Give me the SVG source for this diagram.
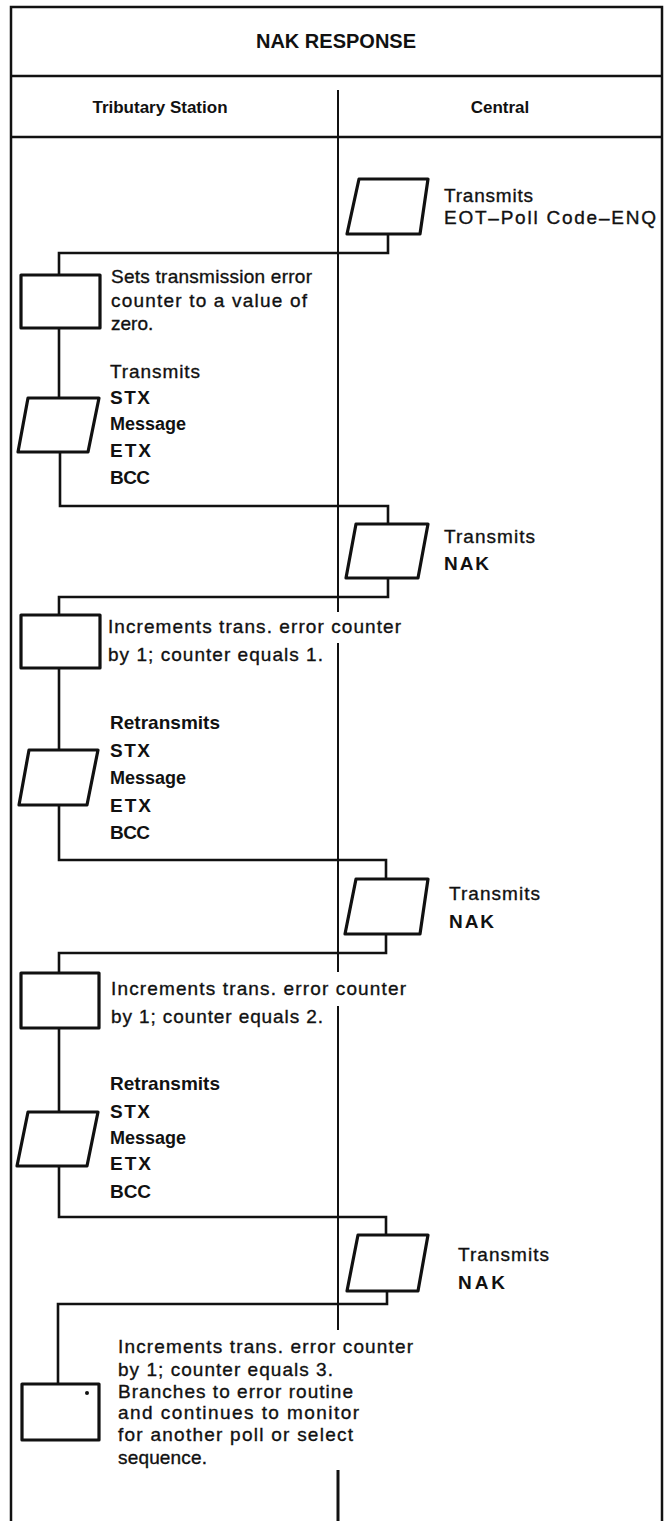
<svg xmlns="http://www.w3.org/2000/svg" width="666" height="1521" viewBox="0 0 666 1521">
<style>
.frame{fill:none;stroke:#111;stroke-width:2.5}
.div{fill:none;stroke:#111;stroke-width:2}
.shape{fill:#fff;stroke:#111;stroke-width:3.2;stroke-linejoin:round}
.conn{fill:none;stroke:#111;stroke-width:2.6;stroke-linejoin:miter}
text{font-family:"Liberation Sans",Arial,sans-serif;fill:#111}
.t{font-size:19px;stroke:#111;stroke-width:0.35}
.b{font-size:19px;font-weight:bold}
.m{font-size:18px;font-weight:bold}
.h1{font-size:20px;font-weight:bold}
.h2{font-size:17px;font-weight:bold}
</style>
<rect width="666" height="1521" fill="#fff"/>
<g id="frame">
<path class="frame" d="M11,1521 V7 H662 V1521"/>
<line class="frame" x1="11" y1="76" x2="662" y2="76"/>
<line class="frame" x1="11" y1="137" x2="662" y2="137"/>
<text class="h1" x="336" y="48" text-anchor="middle">NAK RESPONSE</text>
<text class="h2" x="160" y="113" text-anchor="middle">Tributary Station</text>
<text class="h2" x="500" y="113" text-anchor="middle">Central</text>
</g>
<g id="divider">
<path class="div" d="M338,90 V612 M338,643 V972 M338,1006 V1330"/>
<path class="div" style="stroke-width:3" d="M338,1470 V1521"/>
</g>
<g id="connectors">
<path class="conn" d="M388,234 V253 H59 V275"/>
<path class="conn" d="M59,328 V398"/>
<path class="conn" d="M60,452 V506 H388 V524"/>
<path class="conn" d="M388,578 V597 H59 V615"/>
<path class="conn" d="M59,668 V750"/>
<path class="conn" d="M59,805 V860 H386 V879"/>
<path class="conn" d="M386,934 V953 H59 V973"/>
<path class="conn" d="M59,1028 V1112"/>
<path class="conn" d="M59,1166 V1217 H386 V1235"/>
<path class="conn" d="M387,1291 V1304 H58 V1384"/>
</g>
<g id="c1">
<path class="shape" d="M359,179 L428,179 L420,234 L347,234 Z"/>
<text class="t" x="444" y="202" textLength="89" lengthAdjust="spacing">Transmits</text>
<text class="t" x="444" y="224" textLength="212" lengthAdjust="spacing">EOT–Poll Code–ENQ</text>
</g>
<g id="t1">
<rect class="shape" x="21" y="275" width="79" height="53"/>
<text class="t" x="111" y="283" textLength="201" lengthAdjust="spacing">Sets transmission error</text>
<text class="t" x="111" y="307" textLength="196" lengthAdjust="spacing">counter to a value of</text>
<text class="t" x="111" y="330">zero.</text>
</g>
<g id="t2">
<path class="shape" d="M28,398 L99,398 L88,452 L18,452 Z"/>
<text class="t" x="110" y="378" textLength="90" lengthAdjust="spacing">Transmits</text>
<text class="b" x="110" y="404" textLength="40" lengthAdjust="spacing">STX</text>
<text class="m" x="110" y="430">Message</text>
<text class="b" x="110" y="457" textLength="41" lengthAdjust="spacing">ETX</text>
<text class="b" x="110" y="484" textLength="40" lengthAdjust="spacing">BCC</text>
</g>
<g id="c2">
<path class="shape" d="M356,524 L428,524 L418,578 L346,578 Z"/>
<text class="t" x="444" y="543" textLength="91" lengthAdjust="spacing">Transmits</text>
<text class="b" x="444" y="570" textLength="45" lengthAdjust="spacing">NAK</text>
</g>
<g id="t3">
<rect class="shape" x="21" y="615" width="79" height="53"/>
<text class="t" x="108" y="633" textLength="293" lengthAdjust="spacing">Increments trans. error counter</text>
<text class="t" x="108" y="661" textLength="215" lengthAdjust="spacing">by 1; counter equals 1.</text>
</g>
<g id="t4">
<path class="shape" d="M29,750 L98,750 L87,805 L19,805 Z"/>
<text class="b" x="110" y="729" textLength="110" lengthAdjust="spacing">Retransmits</text>
<text class="b" x="110" y="757" textLength="40" lengthAdjust="spacing">STX</text>
<text class="m" x="110" y="784">Message</text>
<text class="b" x="110" y="812" textLength="41" lengthAdjust="spacing">ETX</text>
<text class="b" x="110" y="839" textLength="40" lengthAdjust="spacing">BCC</text>
</g>
<g id="c3">
<path class="shape" d="M356,879 L428,879 L420,934 L345,934 Z"/>
<text class="t" x="449" y="900" textLength="91" lengthAdjust="spacing">Transmits</text>
<text class="b" x="449" y="928" textLength="45" lengthAdjust="spacing">NAK</text>
</g>
<g id="t5">
<rect class="shape" x="21" y="973" width="78" height="55"/>
<text class="t" x="111" y="995" textLength="295" lengthAdjust="spacing">Increments trans. error counter</text>
<text class="t" x="111" y="1023" textLength="212" lengthAdjust="spacing">by 1; counter equals 2.</text>
</g>
<g id="t6">
<path class="shape" d="M28,1112 L98,1112 L87,1166 L17,1166 Z"/>
<text class="b" x="110" y="1090" textLength="110" lengthAdjust="spacing">Retransmits</text>
<text class="b" x="110" y="1118" textLength="40" lengthAdjust="spacing">STX</text>
<text class="m" x="110" y="1144">Message</text>
<text class="b" x="110" y="1170" textLength="41" lengthAdjust="spacing">ETX</text>
<text class="b" x="110" y="1198" textLength="41" lengthAdjust="spacing">BCC</text>
</g>
<g id="c4">
<path class="shape" d="M358,1235 L428,1235 L418,1291 L347,1291 Z"/>
<text class="t" x="458" y="1261" textLength="91" lengthAdjust="spacing">Transmits</text>
<text class="b" x="458" y="1289" textLength="47" lengthAdjust="spacing">NAK</text>
</g>
<g id="t7">
<rect class="shape" x="22" y="1384" width="77" height="56"/>
<circle cx="87" cy="1393" r="2" fill="#111"/>
<text class="t" x="118" y="1353" textLength="295" lengthAdjust="spacing">Increments trans. error counter</text>
<text class="t" x="118" y="1376" textLength="215" lengthAdjust="spacing">by 1; counter equals 3.</text>
<text class="t" x="118" y="1398" textLength="235" lengthAdjust="spacing">Branches to error routine</text>
<text class="t" x="118" y="1419" textLength="241" lengthAdjust="spacing">and continues to monitor</text>
<text class="t" x="118" y="1441" textLength="235" lengthAdjust="spacing">for another poll or select</text>
<text class="t" x="118" y="1464" textLength="89" lengthAdjust="spacing">sequence.</text>
</g>
</svg>
